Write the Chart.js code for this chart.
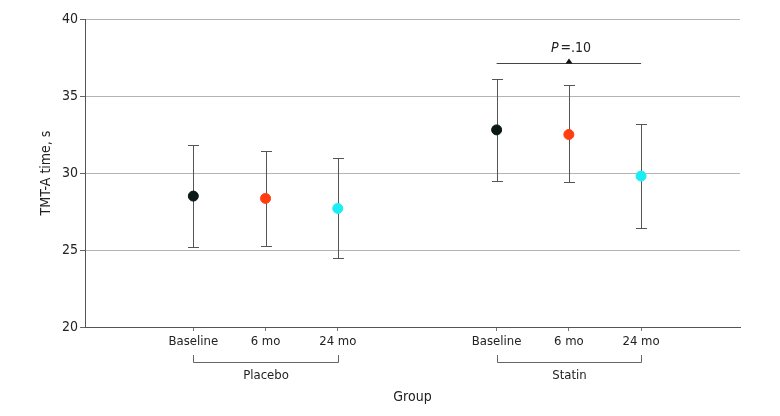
<!DOCTYPE html>
<html>
<head>
<meta charset="utf-8">
<script src="https://cdn.jsdelivr.net/npm/chart.js@4"></script>
<style>
  html, body { margin: 0; padding: 0; background: #fff; }
  #wrap { width: 780px; height: 416px; }
</style>
</head>
<body>
<div id="wrap"><canvas id="chart1" width="780" height="416"></canvas></div>
<script>
'use strict'

const GROUPS = ['Placebo', 'Statin']
const TIMEPOINTS = ['Baseline', '6 mo', '24 mo']
const X_POS = [1.5, 2.5, 3.5, 5.7, 6.7, 7.7]
const MEANS = [28.5, 28.35, 27.7, 32.8, 32.5, 29.8]
const UPPER = [31.8, 31.45, 30.95, 36.1, 35.7, 33.2]
const LOWER = [25.2, 25.25, 24.5, 29.45, 29.4, 26.4]
const POINT_COLORS = ['#0b1818', '#ff3d0f', '#1aeef4']
const Y_TICKS = [20, 25, 30, 35, 40]
const P_LABEL = { value: 37.15, text: '=.10' }

const FONT = '"Liberation Sans Narrow", "DejaVu Sans Condensed", sans-serif'
const INK = '#222'

const xLabels = []
GROUPS.forEach(() => TIMEPOINTS.forEach(t => xLabels.push(t)))

const points = X_POS.map((x, i) => ({ x: x, y: MEANS[i] }))
const colors = X_POS.map((x, i) => POINT_COLORS[i % TIMEPOINTS.length])

// error bars under the dots
const errorBars = {
	id: 'errorBars',
	beforeDatasetsDraw(chart) {
		const { ctx, scales: { x, y } } = chart
		ctx.save()
		ctx.strokeStyle = '#555'
		ctx.lineWidth = 1
		X_POS.forEach((v, i) => {
			const px = Math.round(x.getPixelForValue(v)) + 0.5
			const top = Math.round(y.getPixelForValue(UPPER[i])) + 0.5
			const bot = Math.round(y.getPixelForValue(LOWER[i])) + 0.5
			ctx.beginPath()
			ctx.moveTo(px, top); ctx.lineTo(px, bot)
			ctx.moveTo(px - 5.5, top); ctx.lineTo(px + 5.5, top)
			ctx.moveTo(px - 5.5, bot); ctx.lineTo(px + 5.5, bot)
			ctx.stroke()
		})
		ctx.restore()
	}
}

// group brackets under the tick labels, and the P value bar
const annotations = {
	id: 'annotations',
	afterDraw(chart) {
		const { ctx, chartArea, scales: { x, y } } = chart
		const n = TIMEPOINTS.length
		ctx.save()
		ctx.strokeStyle = '#666'
		ctx.lineWidth = 1
		ctx.fillStyle = INK
		ctx.font = '13px ' + FONT
		ctx.textAlign = 'center'
		ctx.textBaseline = 'middle'
		GROUPS.forEach((g, gi) => {
			const x0 = Math.round(x.getPixelForValue(X_POS[gi * n])) + 0.5
			const x1 = Math.round(x.getPixelForValue(X_POS[gi * n + n - 1])) + 0.5
			const yTop = chartArea.bottom + 28
			const yBot = chartArea.bottom + 35.5
			ctx.beginPath()
			ctx.moveTo(x0, yTop); ctx.lineTo(x0, yBot); ctx.lineTo(x1, yBot); ctx.lineTo(x1, yTop)
			ctx.stroke()
			ctx.fillText(g, (x0 + x1) / 2, chartArea.bottom + 49)
		})

		// P value over the statin group
		const s0 = x.getPixelForValue(X_POS[n])
		const s1 = x.getPixelForValue(X_POS[2 * n - 1])
		const sm = Math.round(x.getPixelForValue(X_POS[n + 1]))
		const ly = Math.round(y.getPixelForValue(P_LABEL.value)) + 0.5
		ctx.strokeStyle = '#444'
		ctx.beginPath()
		ctx.moveTo(s0, ly); ctx.lineTo(s1, ly)
		ctx.stroke()
		ctx.fillStyle = '#111'
		ctx.beginPath()
		ctx.moveTo(sm - 3.5, ly); ctx.lineTo(sm + 3.5, ly); ctx.lineTo(sm, ly - 5)
		ctx.closePath()
		ctx.fill()

		ctx.font = 'italic 14px ' + FONT
		const wP = ctx.measureText('P').width + 2
		ctx.font = '14px ' + FONT
		const wT = ctx.measureText(P_LABEL.text).width
		const startX = sm + 2 - (wP + wT) / 2
		ctx.textAlign = 'left'
		ctx.fillStyle = INK
		ctx.font = 'italic 14px ' + FONT
		ctx.fillText('P', startX, ly - 15)
		ctx.font = '14px ' + FONT
		ctx.fillText(P_LABEL.text, startX + wP, ly - 15)
		ctx.restore()
	}
}

const ctx = document.getElementById('chart1').getContext('2d')
const chart1 = new Chart(ctx, {
	type: 'scatter',
	data: {
		datasets: [{
			data: points,
			pointBackgroundColor: colors,
			pointBorderColor: colors,
			pointRadius: 5,
			pointHoverRadius: 5
		}]
	},
	options: {
		responsive: false,
		animation: false,
		layout: { padding: { top: 19, right: 40, left: 0, bottom: 0 } },
		plugins: {
			legend: { display: false },
			tooltip: { enabled: false }
		},
		scales: {
			x: {
				type: 'linear',
				min: 0,
				max: 9.07,
				afterBuildTicks: (scale) => { scale.ticks = X_POS.map(v => ({ value: v })) },
				afterFit: (scale) => { scale.height = 416 - 327 },
				ticks: {
					autoSkip: false,
					maxRotation: 0,
					padding: 3,
					color: INK,
					font: { family: FONT, size: 13 },
					callback: (value, index) => xLabels[index]
				},
				grid: {
					drawOnChartArea: false,
					drawTicks: true,
					tickLength: 4,
					tickColor: '#777'
				},
				border: { color: '#555', width: 1 },
				title: {
					display: true,
					text: 'Group',
					color: INK,
					font: { family: FONT, size: 14 },
					padding: { top: 0, bottom: 10 }
				}
			},
			y: {
				min: 20,
				max: 40,
				afterBuildTicks: (scale) => { scale.ticks = Y_TICKS.map(v => ({ value: v })) },
				afterFit: (scale) => { scale.width = 85 },
				ticks: {
					padding: 2,
					color: INK,
					font: { family: FONT, size: 14 }
				},
				grid: {
					color: (c) => c.tick && c.tick.value === 20 ? 'rgba(0,0,0,0)' : '#b4b4b4',
					tickColor: '#666',
					tickLength: 5
				},
				border: { color: '#555', width: 1 },
				title: {
					display: true,
					text: 'TMT-A time, s',
					color: INK,
					font: { family: FONT, size: 14 },
					padding: { top: 38, bottom: 0 }
				}
			}
		}
	},
	plugins: [errorBars, annotations]
})
</script>
</body>
</html>
